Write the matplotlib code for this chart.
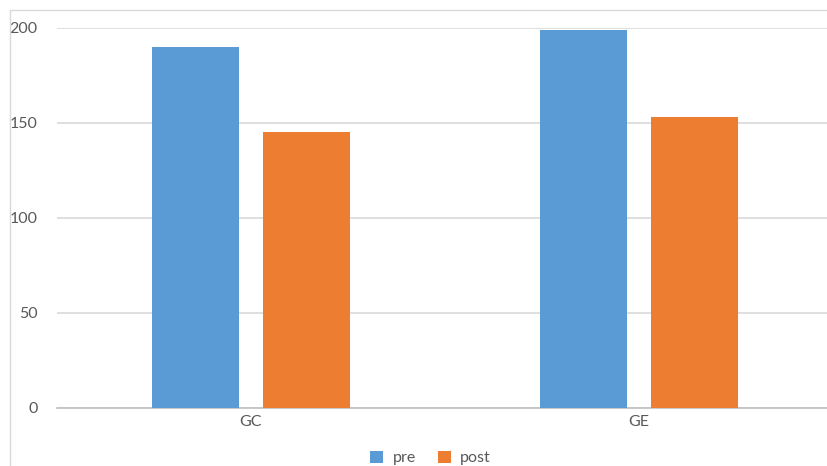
import numpy as np
import matplotlib.pyplot as plt
from matplotlib.patches import Rectangle

# Scores per group, before and after
groups = ["GC", "GE"]
pre = [190, 199]
post = [145, 153]
series_names = ["pre", "post"]

blue = "#5B9BD5"
orange = "#ED7D31"
text_gray = "#595959"

plt.rcParams['font.family'] = ['Lato', 'DejaVu Sans']

fig = plt.figure(figsize=(8.28, 4.66), dpi=100)
ax = fig.add_axes([0.0688, 0.1245, 0.9372, 0.8155])

# light chart-area border
fig.patches.append(Rectangle((10 / 828, -0.1), 1.2, 1 - 10 / 466 + 0.1,
                             transform=fig.transFigure, fill=False,
                             edgecolor="#D9D9D9", linewidth=1.0, zorder=0))

x = np.arange(len(groups))
width = 0.224
offset = 0.143
ax.bar(x - offset, pre, width, color=blue, label=series_names[0], zorder=3)
ax.bar(x + offset, post, width, color=orange, label=series_names[1], zorder=3)

ax.set_xlim(-0.5, 1.5)
ax.set_ylim(0, 200)
ax.set_yticks([0, 50, 100, 150, 200])
ax.set_xticks(x)
ax.set_xticklabels(groups)

ax.yaxis.grid(True, color="#D9D9D9", linewidth=1.2, zorder=0)
ax.set_axisbelow(True)
for side in ["top", "right", "left"]:
    ax.spines[side].set_visible(False)
ax.spines["bottom"].set_color("#BFBFBF")
ax.spines["bottom"].set_linewidth(1.2)

ax.tick_params(axis="y", length=0, pad=14, labelsize=11.5, labelcolor=text_gray)
ax.tick_params(axis="x", length=0, pad=5, labelsize=11.5, labelcolor=text_gray)

leg = fig.legend(loc="center", bbox_to_anchor=(0.52, 0.017), ncol=2,
                 frameon=False, fontsize=11.5, handlelength=0.8,
                 handleheight=0.8, columnspacing=1.4, handletextpad=0.6)
for t in leg.get_texts():
    t.set_color(text_gray)

fig.savefig("out.png", dpi=100)
